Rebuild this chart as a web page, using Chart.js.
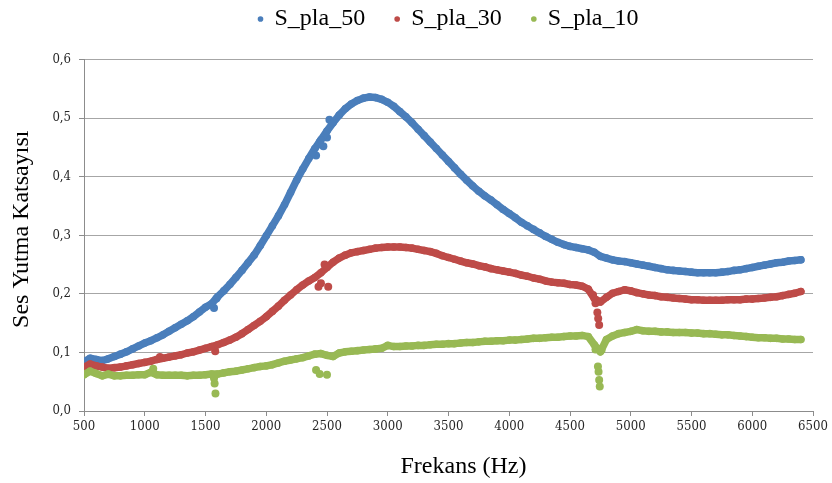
<!DOCTYPE html>
<html>
<head>
<meta charset="utf-8">
<title>Ses Yutma Katsayısı</title>
<script src="https://cdn.jsdelivr.net/npm/chart.js@4.4.1/dist/chart.umd.min.js"></script>
<style>
  html, body { margin: 0; padding: 0; background: #ffffff; }
  #wrap { width: 832px; height: 483px; }
</style>
</head>
<body>
<div id="wrap"><canvas id="c" width="832" height="483"></canvas></div>
<script>
// Frequency grid (Hz)
const freqHz = [
  500, 550, 600, 650, 700, 750, 800, 850, 900, 950,
  1000, 1050, 1100, 1150, 1200, 1250, 1300, 1350, 1400, 1450,
  1500, 1550, 1600, 1650, 1700, 1750, 1800, 1850, 1900, 1950,
  2000, 2050, 2100, 2150, 2200, 2250, 2300, 2350, 2400, 2450,
  2500, 2550, 2600, 2650, 2700, 2750, 2800, 2850, 2900, 2950,
  3000, 3050, 3100, 3150, 3200, 3250, 3300, 3350, 3400, 3450,
  3500, 3550, 3600, 3650, 3700, 3750, 3800, 3850, 3900, 3950,
  4000, 4050, 4100, 4150, 4200, 4250, 4300, 4350, 4400, 4450,
  4500, 4550, 4600, 4650, 4700, 4750, 4800, 4850, 4900, 4950,
  5000, 5050, 5100, 5150, 5200, 5250, 5300, 5350, 5400, 5450,
  5500, 5550, 5600, 5650, 5700, 5750, 5800, 5850, 5900, 5950,
  6000, 6050, 6100, 6150, 6200, 6250, 6300, 6350, 6400
];

// Absorption coefficient, S_pla_50
const sPla50 = [
  0.084, 0.090, 0.088, 0.086, 0.089, 0.093, 0.097, 0.101, 0.106, 0.111,
  0.116, 0.120, 0.125, 0.130, 0.136, 0.142, 0.148, 0.154, 0.161, 0.169,
  0.177, 0.183, 0.195, 0.205, 0.216, 0.228, 0.240, 0.253, 0.266, 0.282,
  0.299, 0.316, 0.333, 0.352, 0.373, 0.394, 0.413, 0.431, 0.448, 0.463,
  0.478, 0.492, 0.505, 0.516, 0.524, 0.530, 0.534, 0.536, 0.535, 0.532,
  0.527, 0.520, 0.511, 0.502, 0.492, 0.481, 0.470, 0.459, 0.448, 0.437,
  0.426, 0.415, 0.404, 0.394, 0.384, 0.375, 0.367, 0.360, 0.352, 0.344,
  0.337, 0.330, 0.322, 0.316, 0.310, 0.304, 0.298, 0.293, 0.288, 0.284,
  0.281, 0.279, 0.277, 0.275, 0.271, 0.264, 0.261, 0.258, 0.256, 0.255,
  0.253, 0.251, 0.249, 0.247, 0.245, 0.243, 0.241, 0.240, 0.239, 0.238,
  0.237, 0.236, 0.236, 0.236, 0.236, 0.237, 0.238, 0.240, 0.241, 0.243,
  0.245, 0.247, 0.249, 0.251, 0.253, 0.254, 0.256, 0.257, 0.258
];

// Absorption coefficient, S_pla_30
const sPla30 = [
  0.075, 0.080, 0.077, 0.075, 0.073, 0.074, 0.075, 0.077, 0.079, 0.081,
  0.083, 0.085, 0.088, 0.090, 0.092, 0.094, 0.096, 0.099, 0.101, 0.104,
  0.107, 0.110, 0.113, 0.117, 0.121, 0.126, 0.132, 0.139, 0.146, 0.153,
  0.161, 0.170, 0.179, 0.189, 0.198, 0.207, 0.215, 0.222, 0.228, 0.236,
  0.245, 0.254, 0.261, 0.266, 0.270, 0.272, 0.274, 0.276, 0.278, 0.279,
  0.280, 0.280, 0.280, 0.279, 0.278, 0.276, 0.274, 0.272, 0.269, 0.265,
  0.262, 0.259, 0.256, 0.253, 0.251, 0.248, 0.246, 0.243, 0.241, 0.239,
  0.237, 0.235, 0.232, 0.230, 0.227, 0.225, 0.222, 0.220, 0.219, 0.218,
  0.216, 0.215, 0.213, 0.208, 0.192, 0.186, 0.194, 0.201, 0.204, 0.207,
  0.205, 0.202, 0.200, 0.198, 0.197, 0.195, 0.194, 0.193, 0.192, 0.191,
  0.190, 0.190, 0.189, 0.189, 0.189, 0.189, 0.190, 0.190, 0.190, 0.191,
  0.191, 0.192, 0.193, 0.194, 0.195, 0.197, 0.199, 0.201, 0.204
];

// Absorption coefficient, S_pla_10
const sPla10 = [
  0.062, 0.068, 0.064, 0.060, 0.063, 0.060, 0.060, 0.061, 0.061, 0.062,
  0.062, 0.066, 0.062, 0.061, 0.061, 0.061, 0.061, 0.060, 0.061, 0.061,
  0.062, 0.063, 0.063, 0.065, 0.067, 0.068, 0.070, 0.072, 0.074, 0.076,
  0.077, 0.079, 0.082, 0.085, 0.087, 0.089, 0.091, 0.094, 0.097, 0.098,
  0.095, 0.093, 0.099, 0.101, 0.102, 0.103, 0.104, 0.105, 0.106, 0.107,
  0.112, 0.110, 0.110, 0.111, 0.111, 0.112, 0.112, 0.113, 0.114, 0.114,
  0.115, 0.115, 0.116, 0.117, 0.117, 0.118, 0.119, 0.119, 0.120, 0.120,
  0.121, 0.121, 0.122, 0.123, 0.124, 0.124, 0.125, 0.126, 0.126, 0.127,
  0.128, 0.128, 0.129, 0.127, 0.113, 0.101, 0.122, 0.128, 0.132, 0.134,
  0.136, 0.139, 0.137, 0.136, 0.136, 0.135, 0.135, 0.134, 0.134, 0.134,
  0.133, 0.133, 0.132, 0.132, 0.131, 0.130, 0.130, 0.129, 0.128, 0.127,
  0.126, 0.125, 0.125, 0.124, 0.124, 0.123, 0.123, 0.122, 0.122
];

// Scattered off-trend readings (frequency, value)
const sPla50ExtraHz = [1570, 1590, 2410, 2440, 2470, 2500, 2520];
const sPla50Extra   = [0.176, 0.192, 0.436, 0.459, 0.452, 0.467, 0.497];
const sPla30ExtraHz = [1125, 1580, 2430, 2450, 2480, 2510, 4690, 4710, 4725, 4732, 4740];
const sPla30Extra   = [0.092, 0.102, 0.212, 0.218, 0.250, 0.212, 0.198, 0.184, 0.168, 0.158, 0.147];
const sPla10ExtraHz = [1070, 1570, 1575, 1582, 2410, 2440, 2500, 4710, 4730, 4735, 4740, 4745, 4760];
const sPla10Extra   = [0.072, 0.056, 0.047, 0.030, 0.070, 0.063, 0.062, 0.105, 0.076, 0.067, 0.053, 0.042, 0.104];

// Tick values
const xTicks = [500, 1000, 1500, 2000, 2500, 3000, 3500, 4000, 4500, 5000, 5500, 6000, 6500];
const yTicks = [0, 0.1, 0.2, 0.3, 0.4, 0.5, 0.6];

const seriesNames = ['S_pla_50', 'S_pla_30', 'S_pla_10'];
const seriesColors = ['#4A7EBB', '#BE4B48', '#98B954'];

const serif = 'Liberation Serif, Times New Roman, serif';
const tickFont = 'DejaVu Serif Condensed, DejaVu Serif, serif';

function toPoints(xs, ys) {
  return xs.map((x, i) => ({ x: x, y: ys[i] }));
}

const mainSeries = [sPla50, sPla30, sPla10];
const extraHz = [sPla50ExtraHz, sPla30ExtraHz, sPla10ExtraHz];
const extraVal = [sPla50Extra, sPla30Extra, sPla10Extra];

const datasets = [];
// Densely sampled sweep: the markers run together into a band
mainSeries.forEach((ys, i) => {
  datasets.push({
    label: seriesNames[i],
    data: toPoints(freqHz, ys),
    order: 3 - i,
    showLine: true,
    borderColor: seriesColors[i],
    backgroundColor: seriesColors[i],
    borderWidth: 7.5,
    borderCapStyle: 'round',
    borderJoinStyle: 'round',
    pointStyle: 'circle',
    pointRadius: 3.8,
    pointHoverRadius: 3.8,
    pointBorderWidth: 0,
    tension: 0
  });
});
// Isolated readings that leave the trend
extraHz.forEach((xs, i) => {
  datasets.push({
    label: seriesNames[i] + ' ',
    data: toPoints(xs, extraVal[i]),
    order: 3 - i,
    showLine: false,
    borderColor: seriesColors[i],
    backgroundColor: seriesColors[i],
    borderWidth: 0,
    pointStyle: 'circle',
    pointRadius: 4,
    pointHoverRadius: 4
  });
});

// Fixed band height for the legend above the plot
const legendBand = {
  id: 'legendBand',
  beforeLayout(chart) {
    const lg = chart.legend;
    if (lg && !lg._bandFit) {
      const fit = lg.fit;
      lg.fit = function () {
        fit.call(this);
        this.height = 82.5;
      };
      lg._bandFit = true;
    }
  }
};

new Chart(document.getElementById('c'), {
  type: 'scatter',
  data: { datasets: datasets },
  plugins: [legendBand],
  options: {
    responsive: false,
    animation: false,
    devicePixelRatio: 1,
    events: [],
    layout: { padding: { top: -23, left: 0, right: 19, bottom: 0 } },
    plugins: {
      tooltip: { enabled: false },
      legend: {
        position: 'top',
        fullSize: false,
        labels: {
          usePointStyle: true,
          pointStyle: 'circle',
          boxWidth: 4,
          boxHeight: 4,
          padding: 30,
          color: '#000000',
          font: { family: serif, size: 24 },
          filter: (item) => item.datasetIndex < 3,
          sort: (a, b) => a.datasetIndex - b.datasetIndex
        }
      }
    },
    scales: {
      x: {
        type: 'linear',
        min: xTicks[0],
        max: xTicks[xTicks.length - 1],
        afterFit: (s) => { s.height = 72; },
        afterBuildTicks: (s) => { s.ticks = xTicks.map(v => ({ value: v })); },
        ticks: {
          autoSkip: false,
          maxRotation: 0,
          padding: 3,
          color: '#262626',
          font: { family: tickFont, size: 13 },
          callback: (v) => String(v)
        },
        grid: {
          display: true,
          drawOnChartArea: false,
          drawTicks: true,
          tickLength: 5,
          tickColor: '#8c8c8c',
          color: '#8c8c8c'
        },
        border: { display: true, color: '#8c8c8c' },
        title: {
          display: true,
          text: '     Frekans (Hz)',
          color: '#000000',
          font: { family: serif, size: 24 },
          padding: { top: 0, bottom: 2 }
        }
      },
      y: {
        min: yTicks[0],
        max: yTicks[yTicks.length - 1],
        afterFit: (s) => { s.width = 84; },
        afterBuildTicks: (s) => { s.ticks = yTicks.map(v => ({ value: v })); },
        ticks: {
          padding: 8,
          color: '#262626',
          font: { family: tickFont, size: 13 },
          callback: (v) => Number(v).toFixed(1).replace('.', ',')
        },
        grid: {
          color: '#a6a6a6',
          lineWidth: 1,
          drawTicks: true,
          tickLength: 5,
          tickColor: '#8c8c8c'
        },
        border: { display: true, color: '#8c8c8c' },
        title: {
          display: true,
          text: '  Ses Yutma Katsayısı',
          color: '#000000',
          font: { family: serif, size: 24 },
          padding: { top: 7, bottom: 0 }
        }
      }
    }
  }
});
</script>
</body>
</html>
